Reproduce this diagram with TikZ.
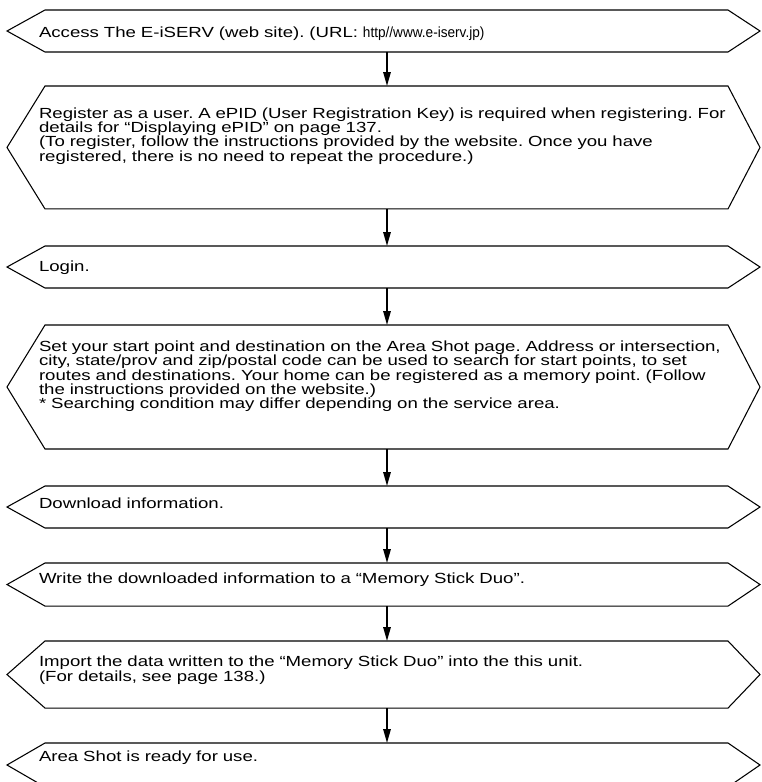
\documentclass[tikz,border=0pt]{standalone}
\usepackage{fontspec}
\setmainfont{Liberation Sans}[FakeStretch=1.27]
\usepackage{graphicx}
\usepackage{tikz}
\usetikzlibrary{arrows.meta}
\frenchspacing

\begin{document}
\begin{tikzpicture}[
  x=0.75pt, y=-0.75pt,
  every node/.append style={inner sep=0pt, outer sep=0pt},
  stepbox/.style={anchor=north west, text width=560pt, align=left, font=\fontsize{11pt}{10.7pt}\selectfont},
  outl/.style={draw, line width=0.8pt, line join=miter},
  arr/.style={-{Triangle[length=10.5pt, width=5.6pt]}, line width=1.2pt},
]
\useasboundingbox (0,0) rectangle (761,782);

%% ─── columns of the hexagon outlines and of the arrows ─────────────────────
\coordinate (ltip) at (7,0);
\coordinate (lcor) at (45,0);
\coordinate (rcor) at (728,0);
\coordinate (rtip) at (760,0);
\coordinate (ax)   at (387,0);

%% ─── steps: text height = top to first baseline, text depth = rest ─────────
\node[stepbox, text height=20.25pt, text depth=11.25pt] (acc)   at (39, 10)  {Access The E-iSERV (web site). (URL: \scalebox{0.73}[1]{http//www.e-iserv.jp)}};
\node[stepbox, text height=24.2pt,  text depth=68pt]    (reg)   at (39, 86)  {Register as a user. A ePID (User Registration Key) is required when registering. For\\
details for “Displaying ePID” on page 137.\\
(To register, follow the instructions provided by the website. Once you have\\
registered, there is no need to repeat the procedure.)};
\node[stepbox, text height=18.75pt, text depth=12.75pt] (login) at (39, 246) {Login.};
\node[stepbox, text height=20pt,    text depth=73pt]    (route) at (39, 325) {Set your start point and destination on the Area Shot page. Address or intersection,\\
city, state/prov and zip/postal code can be used to search for start points, to set\\
routes and destinations. Your home can be registered as a memory point. (Follow\\
the instructions provided on the website.)\\
{}* Searching condition may differ depending on the service area.};
\node[stepbox, text height=16.7pt,  text depth=14.8pt]  (dl)    at (39, 486) {Download information.};
\node[stepbox, text height=15.4pt,  text depth=16.9pt]  (write) at (39, 563) {Write the downloaded information to a “Memory Stick Duo”.};
\node[stepbox, text height=19.3pt,  text depth=31pt]    (imp)   at (39, 641) {Import the data written to the “Memory Stick Duo” into the this unit.\\
(For details, see page 138.)};
\node[stepbox, text height=14pt,    text depth=19pt]    (ready) at (39, 743) {Area Shot is ready for use.};

%% ─── outlines ───────────────────────────────────────────────────────────────
\foreach \n in {acc,reg,login,route,dl,write,imp,ready}
  \draw[outl] (lcor |- \n.north) -- (rcor |- \n.north) -- (rtip |- \n.west)
    -- (rcor |- \n.south) -- (lcor |- \n.south) -- (ltip |- \n.west) -- cycle;

%% ─── arrows ─────────────────────────────────────────────────────────────────
\foreach \a/\b in {acc/reg,reg/login,login/route,route/dl,dl/write,write/imp,imp/ready}
  \draw[arr] (ax |- \a.south) -- (ax |- \b.north);

\end{tikzpicture}
\end{document}
